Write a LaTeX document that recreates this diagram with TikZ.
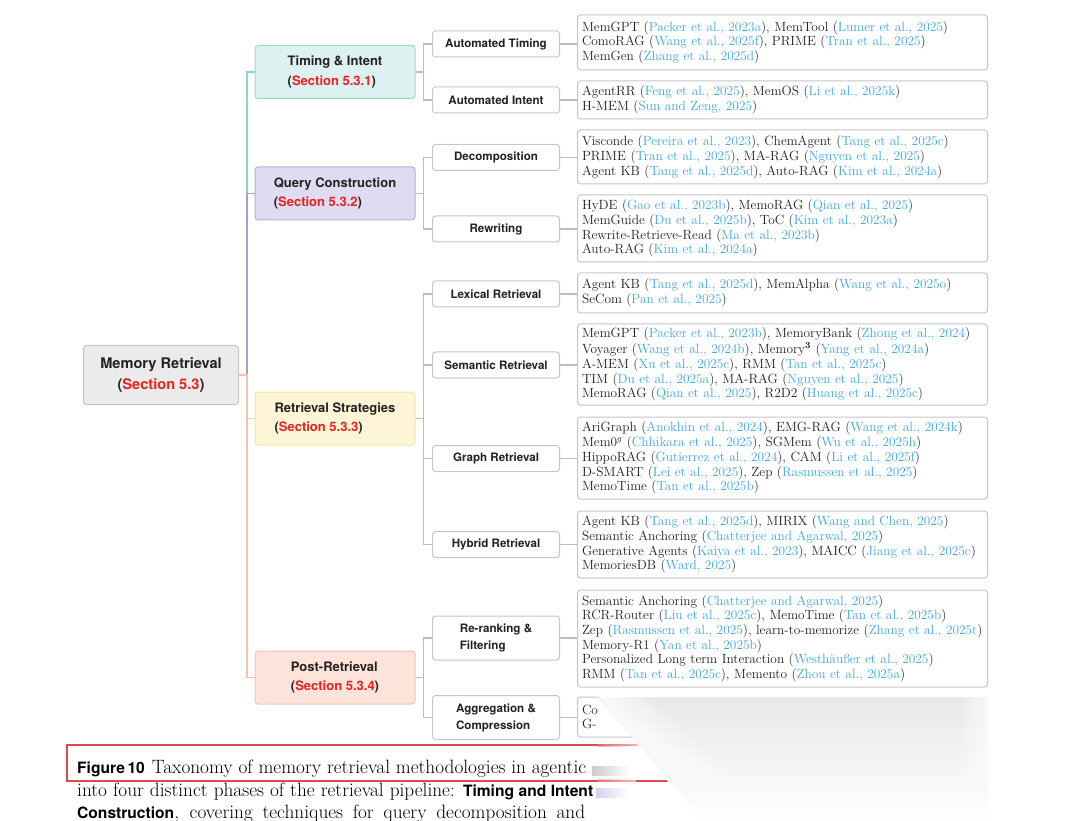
\documentclass[tikz,border=0pt]{standalone}
\usepackage{fontspec}
\setmainfont{Latin Modern Roman}
\newfontfamily\hsans{TeX Gyre Heros}
\usetikzlibrary{calc}
\definecolor{citeblue}{HTML}{3FA7E0}
\definecolor{secred}{HTML}{E8231F}
\definecolor{txtdark}{HTML}{222222}
\definecolor{boxgray}{HTML}{C6C6C6}
\definecolor{linegray}{HTML}{BDBDBD}
\definecolor{rootfill}{HTML}{EBEBEB}
\definecolor{rootborder}{HTML}{C4C4C4}
\definecolor{tealfill}{HTML}{DDF1F0}
\definecolor{tealborder}{HTML}{9AD8D3}
\definecolor{tealline}{HTML}{8CD3CE}
\definecolor{lavfill}{HTML}{DEDCF1}
\definecolor{lavborder}{HTML}{B3AEDB}
\definecolor{lavline}{HTML}{9AA3D2}
\definecolor{yelfill}{HTML}{FDF5D6}
\definecolor{yelborder}{HTML}{F5E2A6}
\definecolor{yelline}{HTML}{F8CDA6}
\definecolor{peachfill}{HTML}{FDE3DA}
\definecolor{peachborder}{HTML}{F6C3B3}
\definecolor{peachline}{HTML}{F6C0AA}
\definecolor{capred}{HTML}{DC4A4A}
\newcommand\ct[1]{\textcolor{citeblue}{#1}}
\newcommand\sect[1]{(\textcolor{secred}{#1})}
\newcommand\capsf[1]{{\hsans\bfseries\fontsize{15.6}{21}\selectfont #1}}
\begin{document}
\begin{tikzpicture}[x=1pt,y=-1pt,
  rootbox/.style={draw=rootborder, fill=rootfill, rounded corners=3pt, line width=1pt,
    minimum width=155pt, minimum height=59pt, align=center, text=txtdark,
    font=\hsans\bfseries\fontsize{14.6}{21}\selectfont},
  catbox/.style={rounded corners=3pt, line width=1pt, minimum width=160pt,
    minimum height=53pt, align=left, text=txtdark,
    font=\hsans\bfseries\fontsize{13}{19.5}\selectfont},
  subbox/.style={draw=boxgray, fill=white, rounded corners=3pt, line width=1pt,
    minimum width=127pt, minimum height=26pt, align=left, text=txtdark,
    font=\hsans\bfseries\fontsize{11.6}{17}\selectfont},
  leafbox/.style={draw=boxgray, fill=white, rounded corners=3pt, line width=1pt,
    text width=401pt, inner xsep=4.5pt, inner ysep=2pt, align=left, anchor=west, text=txtdark,
    font=\fontsize{13.35}{14.7}\selectfont},
  conn/.style={draw=linegray, line width=1.2pt},
  trunk/.style={line width=1.3pt},
  capline/.style={anchor=base west, inner sep=0pt, text=black,
    font=\fontsize{19.3}{21}\selectfont}
]
\useasboundingbox (0,0) rectangle (1080,821);

% root
\node[rootbox] (root) at (161,375) {Memory Retrieval\\\sect{Section 5.3}};

% categories
\node[catbox, draw=tealborder, fill=tealfill] (timing) at (335,72) {Timing \& Intent\\\sect{Section 5.3.1}};
\node[catbox, draw=lavborder, fill=lavfill] (query) at (335,193.5) {Query Construction\\\sect{Section 5.3.2}};
\node[catbox, draw=yelborder, fill=yelfill] (strat) at (335,418.5) {Retrieval Strategies\\\sect{Section 5.3.3}};
\node[catbox, draw=peachborder, fill=peachfill] (post) at (335,677.5) {Post-Retrieval\\\sect{Section 5.3.4}};

\coordinate (rj) at (247,375);
\draw[trunk, tealline] (root.east) -- (rj) |- (timing.west);
\draw[trunk, lavline] (root.east) -- (rj) |- (query.west);
\draw[trunk, yelline] (root.east) -- (rj) |- (strat.west);
\draw[trunk, peachline] (root.east) -- (rj) |- (post.west);

% subcategories
\node[subbox] (s1) at (496,44) {Automated Timing};
\node[subbox] (s2) at (496,100) {Automated Intent};
\node[subbox] (s3) at (496,157.5) {Decomposition};
\node[subbox] (s4) at (496,229) {Rewriting};
\node[subbox] (s5) at (496,294) {Lexical Retrieval};
\node[subbox] (s6) at (496,365) {Semantic Retrieval};
\node[subbox] (s7) at (496,458.5) {Graph Retrieval};
\node[subbox] (s8) at (496,544.5) {Hybrid Retrieval};
\node[subbox, minimum height=44pt] (s9) at (496,638) {Re-ranking \&\\Filtering};
\node[subbox, minimum height=44pt] (s10) at (496,717.5) {Aggregation \&\\Compression};

\foreach \c/\s in {timing/s1, timing/s2, query/s3, query/s4, strat/s5, strat/s6, strat/s7, strat/s8, post/s9, post/s10}
  \draw[conn] (\c.east) -- ++(8,0) |- (\s.west);

% leaves
\node[leafbox, minimum height=55pt] (l1) at (577,42.5) {MemGPT (\ct{Packer et al., 2023a}), MemTool (\ct{Lumer et al., 2025})\\ComoRAG (\ct{Wang et al., 2025f}), PRIME (\ct{Tran et al., 2025})\\MemGen (\ct{Zhang et al., 2025d})};
\node[leafbox, minimum height=38pt] (l2) at (577,100) {AgentRR (\ct{Feng et al., 2025}), MemOS (\ct{Li et al., 2025k})\\H-MEM (\ct{Sun and Zeng, 2025})};
\node[leafbox, minimum height=54pt] (l3) at (577,157) {Visconde (\ct{Pereira et al., 2023}), ChemAgent (\ct{Tang et al., 2025c})\\PRIME (\ct{Tran et al., 2025}), MA-RAG (\ct{Nguyen et al., 2025})\\Agent KB (\ct{Tang et al., 2025d}), Auto-RAG (\ct{Kim et al., 2024a})};
\node[leafbox, minimum height=67pt] (l4) at (577,228.5) {HyDE (\ct{Gao et al., 2023b}), MemoRAG (\ct{Qian et al., 2025})\\MemGuide (\ct{Du et al., 2025b}), ToC (\ct{Kim et al., 2023a})\\Rewrite-Retrieve-Read (\ct{Ma et al., 2023b})\\Auto-RAG (\ct{Kim et al., 2024a})};
\node[leafbox, minimum height=40pt] (l5) at (577,293) {Agent KB (\ct{Tang et al., 2025d}), MemAlpha (\ct{Wang et al., 2025o})\\SeCom (\ct{Pan et al., 2025})};
\node[leafbox, minimum height=81pt] (l6) at (577,364.5) {MemGPT (\ct{Packer et al., 2023b}), MemoryBank (\ct{Zhong et al., 2024})\\Voyager (\ct{Wang et al., 2024b}), Memory$^{\mathbf{3}}$ (\ct{Yang et al., 2024a})\\A-MEM (\ct{Xu et al., 2025c}), RMM (\ct{Tan et al., 2025c})\\TIM (\ct{Du et al., 2025a}), MA-RAG (\ct{Nguyen et al., 2025})\\MemoRAG (\ct{Qian et al., 2025}), R2D2 (\ct{Huang et al., 2025c})};
\node[leafbox, minimum height=82pt] (l7) at (577,458) {AriGraph (\ct{Anokhin et al., 2024}), EMG-RAG (\ct{Wang et al., 2024k})\\Mem0$^g$ (\ct{Chhikara et al., 2025}), SGMem (\ct{Wu et al., 2025h})\\HippoRAG (\ct{Gutierrez et al., 2024}), CAM (\ct{Li et al., 2025f})\\D-SMART (\ct{Lei et al., 2025}), Zep (\ct{Rasmussen et al., 2025})\\MemoTime (\ct{Tan et al., 2025b})};
\node[leafbox, minimum height=67pt] (l8) at (577,544.5) {Agent KB (\ct{Tang et al., 2025d}), MIRIX (\ct{Wang and Chen, 2025})\\Semantic Anchoring (\ct{Chatterjee and Agarwal, 2025})\\Generative Agents (\ct{Kaiya et al., 2023}), MAICC (\ct{Jiang et al., 2025c})\\MemoriesDB (\ct{Ward, 2025})};
\node[leafbox, minimum height=97pt] (l9) at (577,638.5) {Semantic Anchoring (\ct{Chatterjee and Agarwal, 2025})\\RCR-Router (\ct{Liu et al., 2025c}), MemoTime (\ct{Tan et al., 2025b})\\Zep (\ct{Rasmussen et al., 2025}), learn-to-memorize (\ct{Zhang et al., 2025t})\\Memory-R1 (\ct{Yan et al., 2025b})\\Personalized Long term Interaction (\ct{Westhäußer et al., 2025})\\RMM (\ct{Tan et al., 2025c}), Memento (\ct{Zhou et al., 2025a})};
\node[leafbox, minimum height=40pt] (l10) at (577,717) {Co\\G-};

\foreach \s/\l in {s1/l1, s2/l2, s3/l3, s4/l4, s5/l5, s6/l6, s7/l7, s8/l8, s9/l9, s10/l10}
  \draw[conn] (\s.east) -- (\s.east -| \l.west);

% caption
\draw[capred, line width=2pt] (67,745) rectangle (1000,780.5);
\node[capline] (cap1) at (77,773)
  {\hbox to 509pt{\capsf{Figure\,10}\hskip 7pt Taxonomy of memory retrieval methodologies in agentic}};
\node[capline] (cap2) at (77,796)
  {\hbox to 516pt{into four distinct phases of the retrieval pipeline: \capsf{Timing and Intent}}};
\node[capline] (cap3) at (77,818)
  {\hbox to 508pt{\capsf{Construction}, covering techniques for query decomposition and}};

% fading overlay
\fill[white] (596,693) -- (1080,693) -- (1080,821) -- (700,821) -- cycle;
\shade[top color=black!9, bottom color=white] (598,697) -- (988,697) -- (988,821) -- (703,821) -- cycle;
\foreach \i in {1,...,12}
  \fill[white, opacity=0.13] (596,693) -- (596+\i*4,693) -- (700+\i*6,821) -- (700,821) -- cycle;
\foreach \i in {1,...,8}
  \fill[white, opacity=0.15] (990,693) -- (990-\i*3.5,697) -- (990-\i*3.5,821) -- (990,821) -- cycle;
\shade[left color=capred!70, right color=white, opacity=0.6] (598,744) rectangle (640,746.5);
\shade[left color=capred!60, right color=white, opacity=0.6] (598,779.3) rectangle (636,781.8);
\shade[left color=black!45, right color=white, opacity=0.45] (592,766) rectangle (630,775);
\shade[left color=black!40!blue!50, right color=white, opacity=0.35] (596,788) rectangle (628,797);
\end{tikzpicture}
\end{document}
